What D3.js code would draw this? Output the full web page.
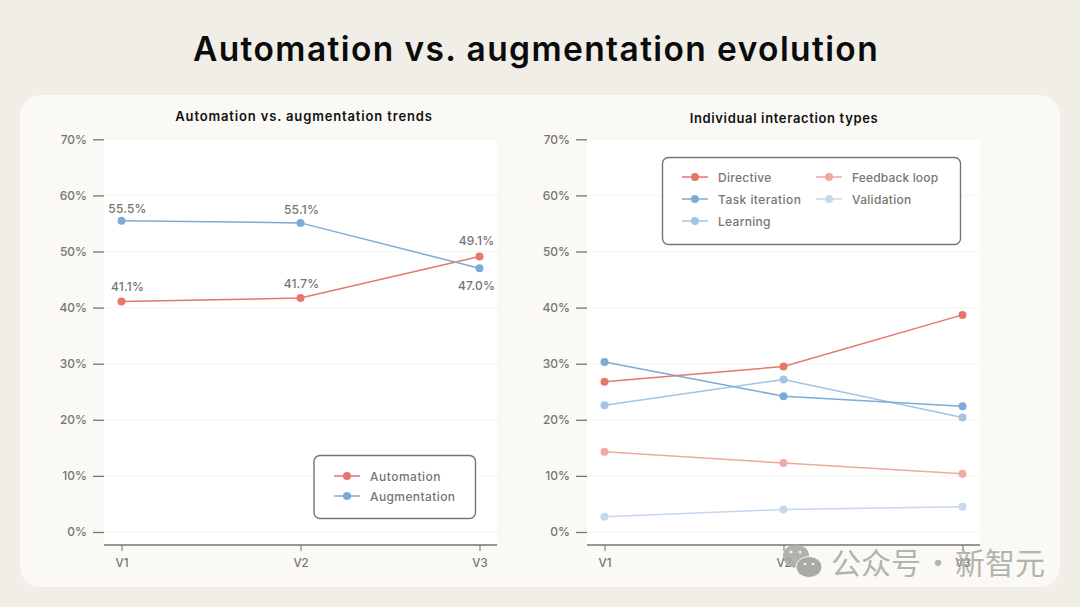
<!DOCTYPE html>
<html>
<head>
<meta charset="utf-8">
<script src="https://cdn.jsdelivr.net/npm/d3@7"></script>
<style>
  html, body { margin: 0; padding: 0; background: #f0eee7; }
  svg { display: block; }
  text { font-family: Inter, "Noto Sans", sans-serif; }
</style>
</head>
<body>
<script>
// Data
const versions = ["V1", "V2", "V3"];
const yTicks = [0, 10, 20, 30, 40, 50, 60, 70];

const automation = [41.1, 41.7, 49.1];
const augmentation = [55.5, 55.1, 47.0];

const directive = [26.8, 29.5, 38.7];
const taskIteration = [30.3, 24.2, 22.4];
const learning = [22.6, 27.2, 20.4];
const feedbackLoop = [14.3, 12.3, 10.4];
const validation = [2.7, 4.0, 4.5];

// SVG constants
const width = 1080;
const height = 607;
const ink = "#77756e";
const red = "#e5776b", blue = "#7dabd8", paleBlue = "#a3c4e3", paleRed = "#f0a99f", palest = "#c5d8ee";
const labelShiftX = [6, 1, -3];

const svg = d3.select("body").append("svg")
    .attr("width", width)
    .attr("height", height);

svg.append("rect").attr("width", width).attr("height", height).attr("fill", "#f0eee7");
svg.append("rect")
    .attr("x", 20).attr("y", 95)
    .attr("width", 1040).attr("height", 492)
    .attr("rx", 20).attr("ry", 20)
    .attr("fill", "#faf9f5");

svg.append("text")
    .attr("x", 536).attr("y", 61)
    .attr("text-anchor", "middle")
    .style("font-size", "33.5px")
    .style("font-weight", 600)
    .style("letter-spacing", "1.4px")
    .style("fill", "#0b0b0b")
    .text("Automation vs. augmentation evolution");

// One panel: white plot, faint grid, axes, lines
function panel(left, title, titleX, titleY, spacing, series) {
    const plotW = 393;
    const y = d3.scaleLinear().domain([0, 70]).range([532, 139.3]);
    const x = d3.scalePoint().domain(versions).range([left + 17.5, left + 375.5]);

    const g = svg.append("g");
    g.append("rect")
        .attr("x", left).attr("y", 139)
        .attr("width", plotW).attr("height", 406)
        .attr("fill", "#fff");

    g.append("text")
        .attr("x", titleX).attr("y", titleY)
        .attr("text-anchor", "middle")
        .style("font-size", "13px")
        .style("font-weight", 600)
        .style("letter-spacing", spacing)
        .style("fill", "#111")
        .text(title);

    g.selectAll(".grid").data(yTicks).enter().append("line")
        .attr("x1", left).attr("x2", left + plotW)
        .attr("y1", d => y(d)).attr("y2", d => y(d))
        .attr("stroke", "#f6f4ee");

    const yAxis = d3.axisLeft(y)
        .tickValues(yTicks)
        .tickSize(11)
        .tickPadding(6)
        .tickFormat(d => d + "%");
    const yg = g.append("g")
        .attr("transform", `translate(${left},0)`)
        .call(yAxis);
    yg.select(".domain").remove();
    yg.selectAll(".tick line").attr("stroke", ink).attr("stroke-width", 1.3);
    yg.selectAll(".tick text")
        .style("font-size", "12px").style("font-weight", 500).style("fill", ink)
        .style("font-family", "Inter, sans-serif");

    const xAxis = d3.axisBottom(x).tickSizeOuter(0).tickSize(6).tickPadding(7.5);
    const xg = g.append("g")
        .attr("transform", "translate(0,545)")
        .call(xAxis);
    xg.select(".domain").attr("stroke", ink).attr("stroke-width", 1.3)
        .attr("d", `M${left},0H${left + plotW}`);
    xg.selectAll(".tick line").attr("stroke", ink).attr("stroke-width", 1);
    xg.selectAll(".tick text")
        .style("font-size", "11.5px").style("font-weight", 500).style("fill", ink)
        .style("font-family", "Inter, sans-serif");

    const line = d3.line()
        .x((d, i) => x(versions[i]))
        .y(d => y(d));

    series.forEach(s => {
        g.append("path")
            .attr("d", line(s.values))
            .attr("fill", "none")
            .attr("stroke", s.color)
            .attr("stroke-width", 1.5);
        g.selectAll(null).data(s.values).enter().append("circle")
            .attr("cx", (d, i) => x(versions[i]))
            .attr("cy", d => y(d))
            .attr("r", 4)
            .attr("fill", s.color);
        if (s.labels) {
            g.selectAll(null).data(s.values).enter().append("text")
                .attr("x", (d, i) => x(versions[i]) + labelShiftX[i])
                .attr("y", (d, i) => y(d) + s.labels[i])
                .attr("text-anchor", "middle")
                .style("font-size", "12px")
                .style("font-weight", 500)
                .style("letter-spacing", "0.2px")
                .style("fill", ink)
                .text(d => d.toFixed(1) + "%");
        }
    });
}

// Legend box with a fixed grid of entries
function legend(bx, by, bw, bh, entries) {
    const g = svg.append("g");
    g.append("rect")
        .attr("x", bx).attr("y", by)
        .attr("width", bw).attr("height", bh)
        .attr("rx", 6).attr("ry", 6)
        .attr("fill", "#fff")
        .attr("stroke", ink)
        .attr("stroke-width", 1.4);
    entries.forEach(e => {
        g.append("line")
            .attr("x1", e.x).attr("x2", e.x + 26)
            .attr("y1", e.y).attr("y2", e.y)
            .attr("stroke", e.color).attr("stroke-width", 1.5);
        g.append("circle")
            .attr("cx", e.x + 13).attr("cy", e.y).attr("r", 4).attr("fill", e.color);
        g.append("text")
            .attr("x", e.x + 36).attr("y", e.y + 4.5)
            .style("font-size", "12px")
            .style("font-weight", 500)
            .style("letter-spacing", e.spacing)
            .style("fill", ink)
            .text(e.name);
    });
}

panel(104, "Automation vs. augmentation trends", 304, 121, "0.85px", [
    {values: automation, color: red, labels: [-10, -10, -12]},
    {values: augmentation, color: blue, labels: [-8, -9, 22]}
]);
panel(587, "Individual interaction types", 784, 123, "0.65px", [
    {values: validation, color: palest},
    {values: feedbackLoop, color: paleRed},
    {values: learning, color: paleBlue},
    {values: taskIteration, color: blue},
    {values: directive, color: red}
]);

legend(314, 455.5, 161.5, 63, [
    {name: "Automation", color: red, x: 334, y: 476, spacing: "0.5px"},
    {name: "Augmentation", color: blue, x: 334, y: 496, spacing: "0.4px"}
]);
legend(662.5, 157.5, 298, 87, [
    {name: "Directive", color: red, x: 682, y: 177, spacing: "0.3px"},
    {name: "Task iteration", color: blue, x: 682, y: 199, spacing: "0.45px"},
    {name: "Learning", color: paleBlue, x: 682, y: 221, spacing: "0.3px"},
    {name: "Feedback loop", color: paleRed, x: 816, y: 177, spacing: "0.15px"},
    {name: "Validation", color: palest, x: 816, y: 199, spacing: "0.3px"}
]);

// Watermark over the bottom right corner
const mark = svg.append("g").attr("fill", "#a9a9a6");
mark.append("ellipse").attr("cx", 796).attr("cy", 556).attr("rx", 13).attr("ry", 11.5).attr("opacity", 0.9);
mark.append("ellipse").attr("cx", 809).attr("cy", 567).attr("rx", 13).attr("ry", 10.5)
    .attr("stroke", "#faf9f5").attr("stroke-width", 1);
mark.selectAll(null).data([[791, 552, 1.5], [800, 552, 1.5], [805, 564, 1.3], [813, 564, 1.3]]).enter().append("circle")
    .attr("cx", d => d[0]).attr("cy", d => d[1]).attr("r", d => d[2])
    .attr("fill", "#f2f1ed");

const markText = svg.append("g")
    .style("fill", "#a9a9a6")
    .style("fill-opacity", 0.9);
[["公众号", 831], ["·", 923], ["新智元", 955]].forEach(t => {
    markText.append("text")
        .attr("x", t[1]).attr("y", 574)
        .style("font-family", '"Noto Sans CJK SC", sans-serif')
        .style("font-size", "30px")
        .text(t[0]);
});
</script>
</body>
</html>
